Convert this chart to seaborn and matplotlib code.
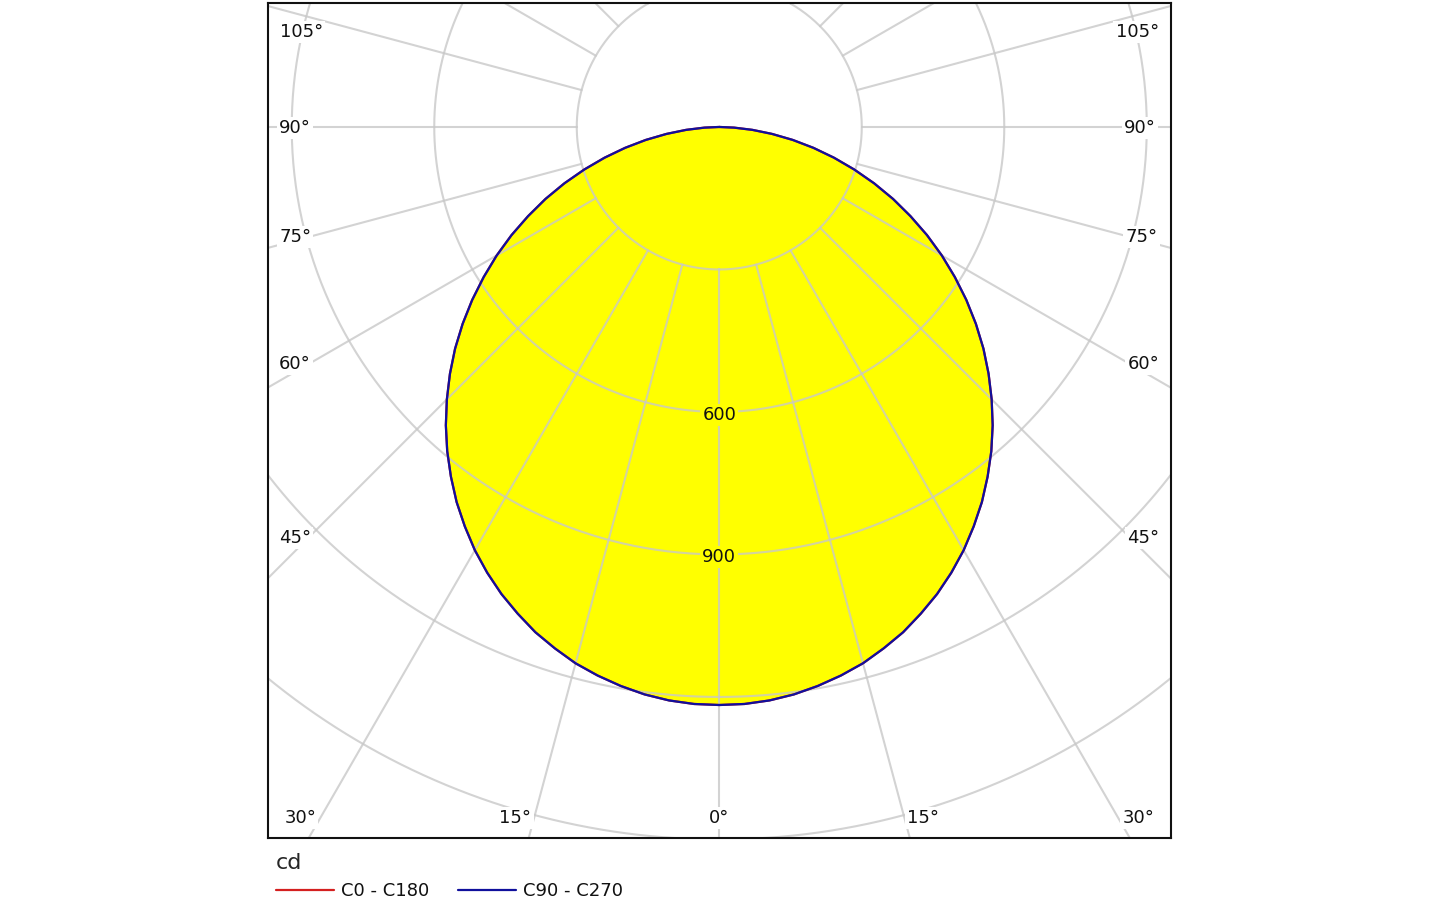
import numpy as np
import pandas as pd
import matplotlib
matplotlib.use("Agg")
import matplotlib.pyplot as plt
import seaborn as sns

# Luminous intensity distribution (cd), every 2.5 deg
gamma = [0, 2.5, 5, 7.5, 10, 12.5, 15, 17.5, 20, 22.5, 25, 27.5, 30, 32.5, 35, 37.5,
         40, 42.5, 45, 47.5, 50, 52.5, 55, 57.5, 60, 62.5, 65, 67.5, 70, 72.5,
         75, 77.5, 80, 82.5, 85, 87.5, 90]
c0_c180 = [1217, 1216, 1212, 1205, 1195, 1183, 1169, 1151, 1132, 1109, 1085, 1058,
           1029, 997, 964, 928, 891, 852, 811, 769, 726, 681, 635, 588, 541, 493,
           444, 396, 347, 298, 250, 203, 157, 112, 70, 31, 0]
c90_c270 = [1217, 1216, 1212, 1205, 1195, 1183, 1169, 1151, 1132, 1109, 1085, 1058,
            1029, 997, 964, 928, 891, 852, 811, 769, 726, 681, 635, 588, 541, 493,
            444, 396, 347, 298, 250, 203, 157, 112, 70, 31, 0]

ring_values = [300, 600, 900, 1200, 1500, 1800]
ring_labels = ["600", "900"]
angle_step = 15

# angle labels: text and position (cd units on the drawing)
angle_texts = ["105°", "90°", "75°", "60°", "45°", "30°", "15°", "0°",
               "15°", "30°", "45°", "60°", "75°", "90°", "105°"]
angle_pos = [(-880, 200), (-893, -2), (-893, -231), (-893, -499), (-893, -865),
             (-882, -1455), (-429, -1455), (0, -1455),
             (429, -1455), (882, -1455), (893, -865), (893, -499), (889, -231),
             (886, -2), (880, 200)]


def curve_frame(values, name):
    # mirror the half-plane values on both sides of the nadir
    ang = [-g for g in gamma[::-1]] + gamma[1:]
    vals = values[::-1] + values[1:]
    t = np.radians(ang)
    v = np.array(vals, dtype=float)
    return pd.DataFrame({"x": v * np.sin(t), "y": -v * np.cos(t),
                         "order": range(len(v)), "plane": name})


def main():
    sns.set_style("white")
    plt.rcParams["font.family"] = ["DejaVu Sans"]

    fig = plt.figure(figsize=(14.4, 9), dpi=100)
    ax = fig.add_axes([268 / 1440, 1 - 838 / 900, 903 / 1440, 835 / 900])
    ax.set_xlim(-950, 951)
    ax.set_ylim(-1497, 261)

    df = pd.concat([curve_frame(c0_c180, "C0 - C180"),
                    curve_frame(c90_c270, "C90 - C270")], ignore_index=True)

    # yellow fill under the curve
    blue = df[df["plane"] == "C90 - C270"]
    ax.fill(blue["x"], blue["y"], color="#FFFF00", zorder=1, linewidth=0)

    # polar grid on top of the fill
    grid_kw = dict(color="#C8C8C8", alpha=0.8, linewidth=1.5, zorder=2)
    t = np.linspace(0, 2 * np.pi, 720)
    for r in ring_values:
        ax.plot(r * np.sin(t), -r * np.cos(t), **grid_kw)
    for a in range(0, 360, angle_step):
        ar = np.radians(a)
        ax.plot([300 * np.sin(ar), 3000 * np.sin(ar)],
                [-300 * np.cos(ar), -3000 * np.cos(ar)], **grid_kw)

    sns.lineplot(data=df, x="x", y="y", hue="plane", units="plane", sort=False,
                 estimator=None, palette={"C0 - C180": "#D42020", "C90 - C270": "#10109C"},
                 linewidth=1.6, ax=ax, zorder=3, legend=False)

    for lab in ring_labels:
        ax.text(0, -int(lab) - 6, lab, ha="center", va="center", fontsize=13, color="#111111",
                zorder=4, bbox=dict(facecolor="#FFFF00", edgecolor="none", pad=1.5))

    for txt, (x, y) in zip(angle_texts, angle_pos):
        ax.text(x, y, txt, ha="center", va="center", fontsize=13, color="#111111",
                zorder=4, bbox=dict(facecolor="white", edgecolor="none", pad=1.5))

    ax.set_xticks([])
    ax.set_yticks([])
    ax.set_xlabel("")
    ax.set_ylabel("")
    for s in ax.spines.values():
        s.set_visible(True)
        s.set_color("#111111")
        s.set_linewidth(1.5)
        s.set_zorder(5)

    # legend below the diagram
    handles = [plt.Line2D([], [], color="#D42020", linewidth=1.6),
               plt.Line2D([], [], color="#10109C", linewidth=1.6)]
    leg = fig.legend(handles, ["C0 - C180", "C90 - C270"], loc="upper left",
                     bbox_to_anchor=(276 / 1440, 1 - 853 / 900), ncol=2, frameon=False,
                     title="cd", title_fontsize=16, fontsize=13, handlelength=3.2,
                     handletextpad=0.4, columnspacing=1.6, borderpad=0, borderaxespad=0,
                     alignment="left")
    for txt in leg.get_texts():
        txt.set_color("#111111")

    fig.savefig("out.png", dpi=100)
    plt.close(fig)


if __name__ == "__main__":
    main()
